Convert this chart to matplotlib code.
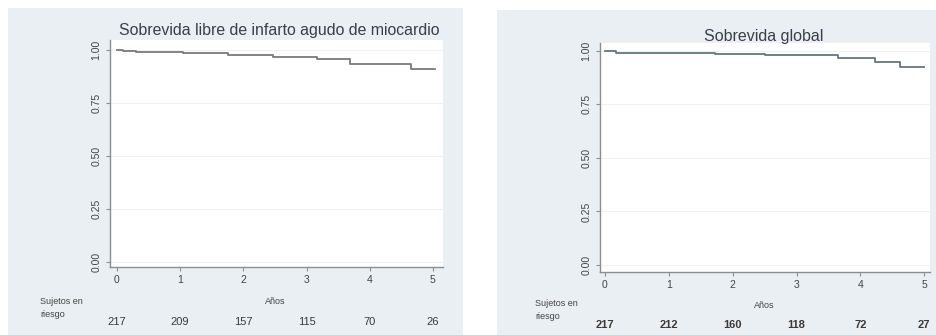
import matplotlib
matplotlib.use("Agg")
import matplotlib.pyplot as plt
from matplotlib.patches import Rectangle
from matplotlib.transforms import blended_transform_factory

plt.rcParams['font.family'] = ['Liberation Sans', 'DejaVu Sans']

# Data
years_ticks = [0, 1, 2, 3, 4, 5]
y_ticks = [0.00, 0.25, 0.50, 0.75, 1.00]
y_tick_labels = ["0.00", "0.25", "0.50", "0.75", "1.00"]

title_left = "Sobrevida libre de infarto agudo de miocardio"
t_left = [0, 0.1, 0.2, 0.3, 0.5, 1.05, 1.76, 2.47, 3.16, 3.69, 4.66, 5.03]
s_left = [1.0, 0.997, 0.994, 0.991, 0.989, 0.986, 0.978, 0.966, 0.956, 0.935, 0.912, 0.912]
risk_left = [217, 209, 157, 115, 70, 26]

title_right = "Sobrevida global"
t_right = [0, 0.18, 1.72, 2.5, 3.65, 4.23, 4.62, 4.99]
s_right = [1.0, 0.99, 0.985, 0.98, 0.966, 0.947, 0.927, 0.927]
risk_right = [217, 212, 160, 118, 72, 27]

W, H = 937, 335
fig = plt.figure(figsize=(W / 100, H / 100), dpi=100)
fig.patch.set_facecolor('white')

bg = '#e9eff3'
# panel backgrounds (pixel coords -> figure fraction)
def px_rect(x0, y0, x1, y1):
    return Rectangle((x0 / W, 1 - y1 / H), (x1 - x0) / W, (y1 - y0) / H,
                     transform=fig.transFigure, facecolor=bg, edgecolor='none', zorder=-10)

fig.patches.append(px_rect(8, 8, 463, 335))
fig.patches.append(px_rect(497, 10, 937, 335))


def make_panel(rect, xlim, ylim, t, s, title, title_xy, title_fs, risk, line_color,
               ano_y, risk_y, suj_x, suj_y, bold):
    ax = fig.add_axes(rect)
    ax.set_zorder(1)
    ax.set_facecolor('white')
    ax.set_xlim(*xlim)
    ax.set_ylim(*ylim)
    for sp in ['top', 'right']:
        ax.spines[sp].set_visible(False)
    for sp in ['left', 'bottom']:
        ax.spines[sp].set_color('#8a8e90')
        ax.spines[sp].set_linewidth(1.0)
    ax.set_yticks(y_ticks)
    ax.set_yticklabels(y_tick_labels, rotation=90, va='center', fontsize=7.5, color='#444444')
    ax.set_xticks(years_ticks)
    ax.set_xticklabels([str(v) for v in years_ticks], fontsize=7.5, color='#444444')
    ax.tick_params(axis='both', length=3, width=0.8, color='#8a8e90', pad=3)
    ax.grid(axis='y', color='#eef2f4', linewidth=0.8)
    ax.set_axisbelow(True)
    ax.step(t, s, where='post', color=line_color, linewidth=1.3)
    fig.text(title_xy[0] / W, 1 - title_xy[1] / H, title, ha='center', va='center',
             fontsize=title_fs, color='#3a3f48', zorder=5)
    tr = blended_transform_factory(ax.transData, fig.transFigure)
    ax.text(2.5, 1 - ano_y / H, "Años", transform=tr, ha='center', va='center',
            fontsize=6.5, color='#444444', clip_on=False)
    for x, r in zip(years_ticks, risk):
        ax.text(x, 1 - risk_y / H, str(r), transform=tr, ha='center', va='center',
                fontsize=8, color='#3a3a3a', fontweight='bold' if bold else 'normal',
                clip_on=False)
    fig.text(suj_x / W, 1 - suj_y / H, "Sujetos en\nriesgo", ha='left', va='center',
             fontsize=6.5, color='#444444', linespacing=1.5, zorder=5)
    return ax


make_panel([110 / W, (H - 267) / H, 333 / W, 227 / H], (-0.11, 5.16), (-0.024, 1.047),
           t_left, s_left, title_left, (279, 30), 11.4, risk_left, '#7a7a7a',
           302, 322, 40, 308, False)

make_panel([600 / W, (H - 272) / H, 330 / W, 229 / H], (-0.078, 5.09), (-0.033, 1.037),
           t_right, s_right, title_right, (764, 36), 11.5, risk_right, '#66777a',
           305, 325, 535, 310, True)

fig.savefig('out.png', dpi=100, facecolor='white')
